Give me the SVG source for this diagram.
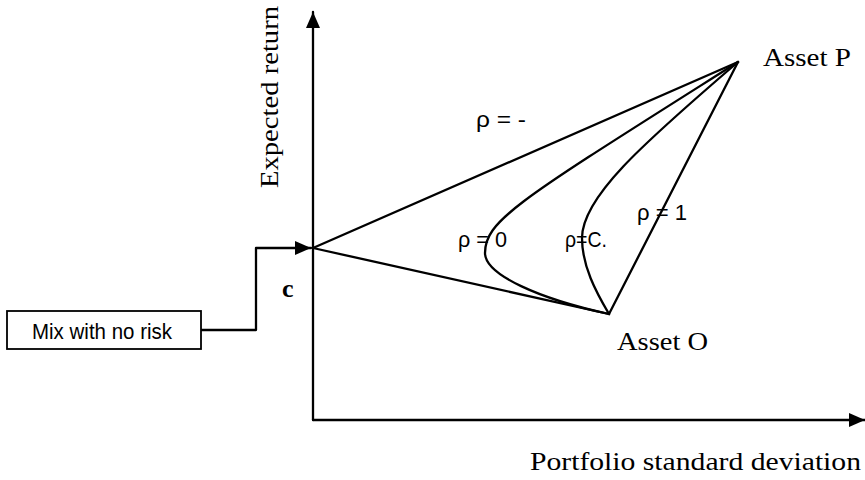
<svg xmlns="http://www.w3.org/2000/svg" width="865" height="480" viewBox="0 0 865 480">
<style>
.ln{fill:none;stroke:#000;stroke-width:2.3;stroke-linecap:round;stroke-linejoin:round}
.serif{font-family:"Liberation Serif","Times New Roman",serif;font-size:26px;fill:#000}
.sans{font-family:"Liberation Sans",Arial,sans-serif;font-size:22px;fill:#000}
.box{fill:#fff;stroke:#000;stroke-width:1.8}
</style>
<defs>
<marker id="ah" viewBox="0 0 16 14" refX="16" refY="7" markerWidth="16" markerHeight="14" markerUnits="userSpaceOnUse" orient="auto">
<path d="M0,0 L16,7 L0,14 Z" fill="#000"/>
</marker>
</defs>
<rect width="865" height="480" fill="#fff"/>
<g id="axes">
<line class="ln" x1="313" y1="420" x2="313" y2="12" marker-end="url(#ah)"/>
<line class="ln" x1="313" y1="420" x2="865" y2="420" marker-end="url(#ah)"/>
<text class="serif" transform="translate(278,188) rotate(-90)" textLength="182" lengthAdjust="spacingAndGlyphs">Expected return</text>
<text class="serif" x="530" y="470" textLength="331" lengthAdjust="spacingAndGlyphs">Portfolio standard deviation</text>
</g>
<g id="connectors">
<line class="ln" x1="313" y1="248" x2="738" y2="62"/>
<line class="ln" x1="313" y1="248" x2="609" y2="314"/>
<line class="ln" x1="609" y1="314" x2="738" y2="62"/>
<path class="ln" d="M738,62 C520,200 485,220 485,253 C485,275 540,299 609,314"/>
<path class="ln" d="M738,62 C640,146 582,198 582,238 C582,266 596,292 609,314"/>
<polyline class="ln" points="201,330 256,330 256,248 311,248" marker-end="url(#ah)"/>
</g>
<g id="node-c">
<text class="serif" x="282" y="297" font-weight="bold" font-size="27">c</text>
</g>
<g id="node-asset-p">
<text class="serif" x="763" y="66" textLength="88" lengthAdjust="spacingAndGlyphs">Asset P</text>
</g>
<g id="node-asset-o">
<text class="serif" x="617" y="350" textLength="91" lengthAdjust="spacingAndGlyphs">Asset O</text>
</g>
<g id="node-mix">
<rect class="box" x="7" y="311" width="194" height="38"/>
<text class="sans" x="32" y="339" font-size="20" textLength="140" lengthAdjust="spacingAndGlyphs">Mix with no risk</text>
</g>
<g id="labels">
<text class="sans" x="476" y="127" textLength="50" lengthAdjust="spacingAndGlyphs">ρ = -</text>
<text class="sans" x="458" y="247" textLength="49" lengthAdjust="spacingAndGlyphs">ρ = 0</text>
<text class="sans" x="565" y="247" textLength="42" lengthAdjust="spacingAndGlyphs">ρ=C.</text>
<text class="sans" x="637" y="220" textLength="50" lengthAdjust="spacingAndGlyphs">ρ = 1</text>
</g>
</svg>
